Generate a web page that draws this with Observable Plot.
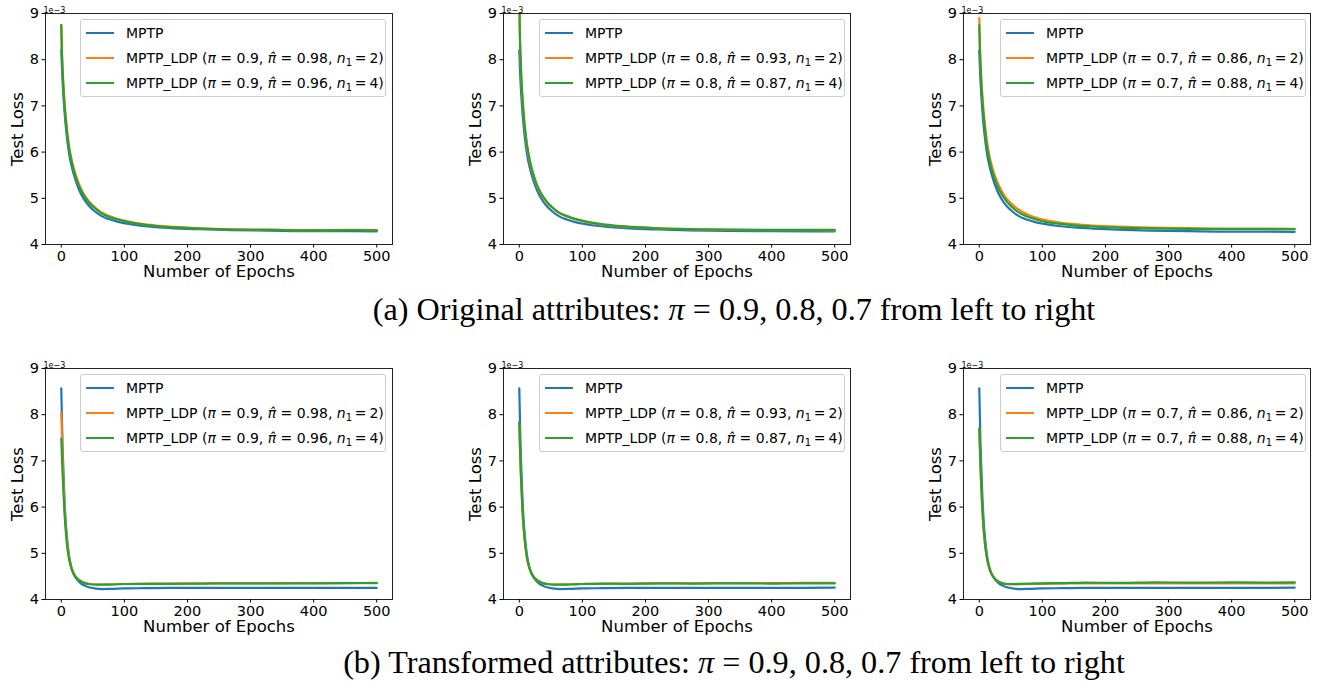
<!DOCTYPE html>
<html>
<head>
<meta charset="utf-8">
<script src="https://cdn.jsdelivr.net/npm/d3@7"></script>
<script src="https://cdn.jsdelivr.net/npm/@observablehq/plot@0.6"></script>
<style>
  html, body { margin: 0; padding: 0; background: white; }
  #root { position: relative; width: 1324px; height: 682px; overflow: hidden; background: white; }
  .panel { position: absolute; width: 400px; height: 280px; overflow: hidden; }
  .legend { position: absolute; width: 306px; height: 78px; box-sizing: border-box;
    border: 1px solid #cccccc; border-radius: 3px; background: rgba(255,255,255,0.85);
    font-family: "DejaVu Sans", sans-serif; font-size: 14px; color: #000; }
  .item { position: absolute; left: 0; height: 20px; width: 100%; }
  .sw { position: absolute; left: 5px; width: 28px; height: 2px; top: 9px; }
  .lab { position: absolute; left: 45px; top: 0; line-height: 20px; white-space: nowrap; }
  .lab i { font-style: italic; }
  .lab sub { font-size: 10px; vertical-align: -3px; line-height: 0; }
  .cap { position: absolute; white-space: nowrap; font-family: "Liberation Serif", "DejaVu Serif", serif; color: #000; line-height: 1; }
  .cap i { font-style: italic; }
</style>
</head>
<body>
<div id="root"></div>
<script>
// ---------------- data ----------------
const seriesNames = ["MPTP", "MPTP_LDP n1=2", "MPTP_LDP n1=4"];
const seriesColors = ["#1f77b4", "#ff7f0e", "#2ca02c"];
const xTicks = [0, 100, 200, 300, 400, 500];
const yTicks = [4, 5, 6, 7, 8, 9];

const piValues = ["0.9", "0.8", "0.7"];
const piHatN2 = ["0.98", "0.93", "0.86"];
const piHatN4 = ["0.96", "0.87", "0.88"];

const captionA = "(a) Original attributes:";
const captionB = "(b) Transformed attributes:";
const captionRest = "= 0.9, 0.8, 0.7 from left to right";

// (a) original attributes, epochs sampled
const epochsA = [0, 1, 2, 3, 5, 7, 10, 13, 17, 22, 28, 35, 43, 52, 62, 75, 90, 105, 125, 150, 180, 220, 270, 330, 400, 460, 500];
const a1_MPTP = [8.20, 7.85, 7.55, 7.30, 6.90, 6.58, 6.20, 5.92, 5.66, 5.42, 5.19, 5.00, 4.85, 4.73, 4.63, 4.55, 4.49, 4.45, 4.41, 4.375, 4.35, 4.33, 4.31, 4.30, 4.29, 4.29, 4.285];
const a1_LDP2 = [8.75, 8.20, 7.85, 7.55, 7.12, 6.78, 6.38, 6.08, 5.80, 5.55, 5.31, 5.11, 4.95, 4.82, 4.71, 4.62, 4.55, 4.50, 4.45, 4.41, 4.38, 4.35, 4.33, 4.32, 4.31, 4.315, 4.31];
const a1_LDP4 = [8.75, 8.15, 7.80, 7.50, 7.05, 6.72, 6.32, 6.03, 5.75, 5.50, 5.27, 5.08, 4.92, 4.80, 4.69, 4.60, 4.54, 4.49, 4.44, 4.40, 4.37, 4.345, 4.325, 4.315, 4.305, 4.31, 4.305];

const a2_MPTP = [8.20, 7.82, 7.52, 7.27, 6.87, 6.55, 6.18, 5.90, 5.64, 5.40, 5.18, 4.99, 4.84, 4.72, 4.62, 4.54, 4.48, 4.44, 4.40, 4.37, 4.345, 4.325, 4.305, 4.295, 4.29, 4.285, 4.285];
const a2_LDP2 = [9.30, 8.45, 8.00, 7.65, 7.15, 6.78, 6.36, 6.06, 5.77, 5.51, 5.27, 5.08, 4.92, 4.80, 4.69, 4.61, 4.54, 4.49, 4.44, 4.405, 4.375, 4.35, 4.33, 4.315, 4.31, 4.31, 4.305];
const a2_LDP4 = [9.40, 8.55, 8.08, 7.72, 7.20, 6.83, 6.40, 6.10, 5.80, 5.54, 5.29, 5.10, 4.94, 4.81, 4.70, 4.62, 4.55, 4.50, 4.45, 4.41, 4.38, 4.35, 4.335, 4.32, 4.315, 4.315, 4.315];

const a3_MPTP = [8.20, 7.83, 7.53, 7.28, 6.88, 6.56, 6.19, 5.91, 5.65, 5.41, 5.18, 4.99, 4.84, 4.72, 4.62, 4.54, 4.48, 4.44, 4.40, 4.37, 4.345, 4.32, 4.30, 4.29, 4.28, 4.28, 4.275];
const a3_LDP2 = [8.90, 8.35, 7.98, 7.68, 7.22, 6.88, 6.48, 6.16, 5.86, 5.60, 5.37, 5.17, 5.00, 4.87, 4.76, 4.66, 4.58, 4.53, 4.48, 4.44, 4.41, 4.385, 4.365, 4.355, 4.345, 4.345, 4.34];
const a3_LDP4 = [8.75, 8.20, 7.83, 7.53, 7.08, 6.74, 6.35, 6.05, 5.77, 5.52, 5.29, 5.10, 4.94, 4.81, 4.70, 4.61, 4.54, 4.49, 4.45, 4.415, 4.39, 4.365, 4.35, 4.34, 4.335, 4.335, 4.33];

// (b) transformed attributes
const epochsB = [0, 1, 2, 3, 5, 7, 9, 12, 15, 19, 24, 30, 37, 45, 55, 65, 80, 100, 130, 170, 220, 280, 340, 400, 450, 500];
const b1_MPTP = [8.57, 7.95, 7.35, 6.95, 6.20, 5.70, 5.35, 4.98, 4.75, 4.57, 4.45, 4.36, 4.30, 4.26, 4.235, 4.225, 4.23, 4.24, 4.245, 4.25, 4.25, 4.25, 4.25, 4.25, 4.25, 4.25];
const b1_LDP2 = [8.05, 7.60, 7.10, 6.70, 6.05, 5.60, 5.28, 4.95, 4.75, 4.59, 4.48, 4.41, 4.36, 4.335, 4.325, 4.325, 4.33, 4.335, 4.34, 4.345, 4.345, 4.35, 4.35, 4.355, 4.355, 4.355];
const b1_LDP4 = [7.48, 7.10, 6.75, 6.45, 5.90, 5.50, 5.20, 4.90, 4.72, 4.57, 4.47, 4.40, 4.355, 4.33, 4.32, 4.32, 4.325, 4.335, 4.34, 4.34, 4.345, 4.35, 4.35, 4.35, 4.355, 4.36];

const b2_MPTP = [8.57, 7.95, 7.35, 6.95, 6.20, 5.70, 5.35, 4.98, 4.75, 4.57, 4.45, 4.36, 4.30, 4.26, 4.235, 4.225, 4.23, 4.24, 4.245, 4.25, 4.25, 4.25, 4.25, 4.25, 4.25, 4.255];
const b2_LDP2 = [7.80, 7.35, 6.90, 6.55, 5.95, 5.53, 5.23, 4.92, 4.73, 4.58, 4.47, 4.40, 4.36, 4.335, 4.325, 4.325, 4.33, 4.335, 4.34, 4.345, 4.35, 4.35, 4.355, 4.355, 4.36, 4.36];
const b2_LDP4 = [7.84, 7.38, 6.92, 6.56, 5.96, 5.54, 5.24, 4.92, 4.73, 4.58, 4.47, 4.40, 4.355, 4.33, 4.32, 4.32, 4.325, 4.335, 4.345, 4.34, 4.35, 4.345, 4.35, 4.345, 4.35, 4.35];

const b3_MPTP = [8.57, 7.95, 7.35, 6.95, 6.20, 5.70, 5.35, 4.98, 4.75, 4.57, 4.45, 4.36, 4.30, 4.26, 4.235, 4.225, 4.23, 4.24, 4.245, 4.25, 4.25, 4.25, 4.25, 4.25, 4.25, 4.255];
const b3_LDP2 = [7.70, 7.28, 6.85, 6.50, 5.92, 5.51, 5.21, 4.91, 4.72, 4.57, 4.46, 4.39, 4.35, 4.33, 4.325, 4.33, 4.335, 4.34, 4.345, 4.35, 4.35, 4.35, 4.35, 4.35, 4.35, 4.35];
const b3_LDP4 = [7.70, 7.28, 6.85, 6.50, 5.92, 5.51, 5.21, 4.91, 4.72, 4.57, 4.46, 4.39, 4.35, 4.335, 4.335, 4.34, 4.345, 4.35, 4.355, 4.365, 4.36, 4.37, 4.365, 4.37, 4.365, 4.37];

const panels = [
  {row: 0, col: 0, epochs: epochsA, series: [a1_MPTP, a1_LDP2, a1_LDP4]},
  {row: 0, col: 1, epochs: epochsA, series: [a2_MPTP, a2_LDP2, a2_LDP4]},
  {row: 0, col: 2, epochs: epochsA, series: [a3_MPTP, a3_LDP2, a3_LDP4]},
  {row: 1, col: 0, epochs: epochsB, series: [b1_MPTP, b1_LDP2, b1_LDP4]},
  {row: 1, col: 1, epochs: epochsB, series: [b2_MPTP, b2_LDP2, b2_LDP4]},
  {row: 1, col: 2, epochs: epochsB, series: [b3_MPTP, b3_LDP2, b3_LDP4]}
];

// ---------------- layout ----------------
const colLeft = [0, 458, 918];
const rowTop = [0, 355];
const legendLeft = [80, 81, 82];

const root = document.getElementById("root");

function makePlot(p) {
  const data = [];
  p.series.forEach((vals, si) => {
    vals.forEach((v, i) => data.push({epoch: p.epochs[i], value: v, series: seriesNames[si]}));
  });
  return Plot.plot({
    width: 400, height: 280,
    marginLeft: 45, marginRight: 8, marginTop: 13, marginBottom: 36,
    style: {fontFamily: "DejaVu Sans, sans-serif", background: "white", color: "#000", overflow: "visible"},
    x: {domain: [-25, 525]},
    y: {domain: [4, 9]},
    color: {domain: seriesNames, range: seriesColors},
    marks: [
      Plot.line(data, {x: "epoch", y: "value", z: "series", stroke: "series", strokeWidth: 2.2, curve: "monotone-x", clip: true}),
      Plot.frame({stroke: "#222", strokeWidth: 1}),
      Plot.axisX({ticks: xTicks, tickSize: 3.5, tickPadding: 3, fontSize: 14.5, label: null, tickFormat: d => String(d)}),
      Plot.axisY({ticks: yTicks, tickSize: 3.5, tickPadding: 3, fontSize: 14.5, label: null, tickFormat: d => String(d)}),
      Plot.text(["Number of Epochs"], {text: d => d, frameAnchor: "bottom", textAnchor: "middle", lineAnchor: "middle", dy: 27, fontSize: 16.5}),
      Plot.text(["Test Loss"], {text: d => d, frameAnchor: "left", textAnchor: "middle", lineAnchor: "middle", rotate: -90, dx: -28, fontSize: 16.5}),
      Plot.text(["1e\u22123"], {text: d => d, frameAnchor: "top-left", textAnchor: "start", dx: -2, dy: -6, fontSize: 8})
    ]
  });
}

function legendLabel(si, col) {
  if (si === 0) return "MPTP";
  const hat = si === 1 ? piHatN2[col] : piHatN4[col];
  const n = si === 1 ? "2" : "4";
  return `MPTP_LDP (<i>\u03c0</i> = ${piValues[col]}, <i>\u03c0\u0302</i> = ${hat}, <i>n</i><sub>1</sub>\u2009=\u2009${n})`;
}

panels.forEach(p => {
  const wrap = document.createElement("div");
  wrap.className = "panel";
  wrap.style.left = colLeft[p.col] + "px";
  wrap.style.top = rowTop[p.row] + "px";
  wrap.appendChild(makePlot(p));
  const lg = document.createElement("div");
  lg.className = "legend";
  lg.style.left = legendLeft[p.col] + "px";
  lg.style.top = "19px";
  seriesNames.forEach((s, si) => {
    const it = document.createElement("div");
    it.className = "item";
    it.style.top = (3 + si * 25) + "px";
    it.innerHTML = `<div class="sw" style="background:${seriesColors[si]}"></div><div class="lab">${legendLabel(si, p.col)}</div>`;
    lg.appendChild(it);
  });
  wrap.appendChild(lg);
  root.appendChild(wrap);
});

// captions
function makeCaption(prefix) {
  const c = document.createElement("div");
  c.className = "cap";
  c.innerHTML = `${prefix} <i>\u03c0</i> ${captionRest}`;
  c.style.fontSize = "26px";
  root.appendChild(c);
  return c;
}
const capA = makeCaption(captionA);
const capB = makeCaption(captionB);
const wA = capA.getBoundingClientRect().width;
const fs = 26 * 723 / wA;
[[capA, 309], [capB, 662]].forEach(([c, cy]) => {
  c.style.fontSize = fs + "px";
  const r = c.getBoundingClientRect();
  c.style.left = (734 - r.width / 2) + "px";
  c.style.top = (cy - r.height / 2) + "px";
});
</script>
</body>
</html>
